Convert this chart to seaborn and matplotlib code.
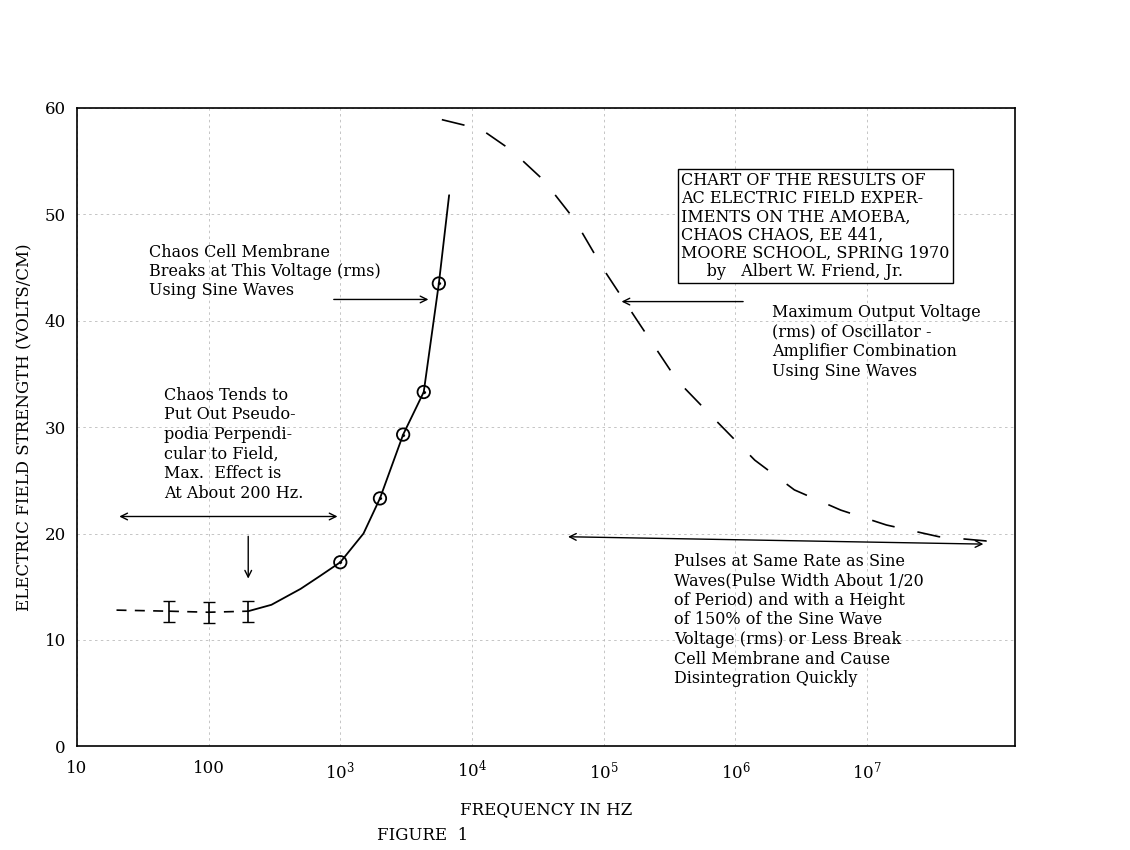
import matplotlib
matplotlib.use("Agg")
import matplotlib.pyplot as plt
import seaborn as sns
import numpy as np

sns.set_theme(style="white")
plt.rcParams['font.family'] = ['DejaVu Serif']
plt.rcParams['mathtext.fontset'] = 'dejavuserif'
plt.rcParams['text.color'] = 'black'
plt.rcParams['axes.labelcolor'] = 'black'
plt.rcParams['xtick.color'] = 'black'
plt.rcParams['ytick.color'] = 'black'

# data
err_freq = [50, 100, 200]
err_val = [12.7, 12.6, 12.7]
err_size = [1.0, 1.0, 1.0]
low_dash_freq = [20, 50]
low_dash_val = [12.8, 12.7]
break_freq = [1000, 2000, 3000, 4300, 5600]
break_val = [17.3, 23.3, 29.3, 33.3, 43.5]
curve_freq = [200, 300, 500, 700, 1000, 1500, 2000, 3000, 4300, 5600, 6700]
curve_val = [12.7, 13.3, 14.8, 16.0, 17.3, 20.0, 23.3, 29.3, 33.3, 43.5, 51.8]
max_freq = [5900, 11700, 20000, 35000, 60000, 100000, 180000, 360000, 700000,
            1400000, 2800000, 6300000, 14000000, 35000000, 80000000, 120000000]
max_val = [58.9, 58.0, 56.0, 53.2, 49.5, 44.8, 40.0, 34.4, 30.7, 26.9, 24.1,
           22.2, 20.8, 19.7, 19.3, 19.7]
xticks = [10, 100, 1e3, 1e4, 1e5, 1e6, 1e7]
xtick_labels = ["10", "100", "$10^{3}$", "$10^{4}$", "$10^{5}$", "$10^{6}$", "$10^{7}$"]
yticks = [0, 10, 20, 30, 40, 50, 60]

fig = plt.figure(figsize=(11.3, 8.5), dpi=100)
ax = fig.add_axes([0.068, 0.122, 0.83, 0.751])
ax.set_xscale('log')
ax.set_xlim(10, 10**8.12)
ax.set_ylim(0, 60)

sns.lineplot(x=curve_freq, y=curve_val, ax=ax, color='black', lw=1.3, sort=False)
sns.lineplot(x=low_dash_freq, y=low_dash_val, ax=ax, color='black', lw=1.2, linestyle=(0, (6, 5)))
sns.lineplot(x=err_freq, y=err_val, ax=ax, color='black', lw=1.2, linestyle=(0, (6, 5)))
ax.errorbar(err_freq, err_val, yerr=err_size, fmt='none', ecolor='black', capsize=4, lw=1.2)
sns.scatterplot(x=break_freq, y=break_val, ax=ax, s=80, facecolor='none', edgecolor='black', linewidth=1.3)
sns.scatterplot(x=break_freq, y=break_val, ax=ax, s=6, color='black')
sns.lineplot(x=max_freq, y=max_val, ax=ax, color='black', lw=1.2, linestyle=(0, (14, 14)), sort=False)

ax.set_xticks(xticks)
ax.set_xticklabels(xtick_labels)
ax.minorticks_off()
ax.set_yticks(yticks)
ax.tick_params(labelsize=12, length=0)
ax.tick_params(axis='x', pad=10)
ax.tick_params(axis='y', pad=8)
for s in ax.spines.values():
    s.set_color('black'); s.set_linewidth(1.2)
ax.grid(True, color='#bbbbbb', linestyle=(0, (3, 4)), lw=0.6)

ax.set_xlabel("FREQUENCY IN HZ", fontsize=12, labelpad=14)
ax.set_ylabel("ELECTRIC FIELD STRENGTH (VOLTS/CM)", fontsize=12, labelpad=8)
fig.text(0.334, 0.012, "FIGURE  1", fontsize=12)

ap = dict(arrowstyle='->', color='black', lw=1)
ap2 = dict(arrowstyle='<->', color='black', lw=1)
ax.annotate("", xy=(20, 21.6), xytext=(1000, 21.6), arrowprops=ap2)
ax.annotate("", xy=(200, 15.5), xytext=(200, 20.0), arrowprops=ap)
ax.annotate("", xy=(4900, 42.0), xytext=(850, 42.0), arrowprops=ap)
ax.annotate("", xy=(130000, 41.8), xytext=(1.2e6, 41.8), arrowprops=ap)
ax.annotate("", xy=(51000, 19.7), xytext=(8e7, 19.0), arrowprops=ap2)

fs = 11.5
ax.text(35, 47.2, "Chaos Cell Membrane\nBreaks at This Voltage (rms)\nUsing Sine Waves",
        fontsize=fs, va='top', linespacing=1.15)
ax.text(46, 33.8, "Chaos Tends to\nPut Out Pseudo-\npodia Perpendi-\ncular to Field,\nMax.  Effect is\nAt About 200 Hz.",
        fontsize=fs, va='top', linespacing=1.2)
ax.text(1.9e6, 41.6, "Maximum Output Voltage\n(rms) of Oscillator -\nAmplifier Combination\nUsing Sine Waves",
        fontsize=fs, va='top', linespacing=1.2)
ax.text(3.4e5, 18.2, "Pulses at Same Rate as Sine\nWaves(Pulse Width About 1/20\nof Period) and with a Height\nof 150% of the Sine Wave\nVoltage (rms) or Less Break\nCell Membrane and Cause\nDisintegration Quickly",
        fontsize=fs, va='top', linespacing=1.2)
ax.text(10**5.59, 54.0, "CHART OF THE RESULTS OF\nAC ELECTRIC FIELD EXPER-\nIMENTS ON THE AMOEBA,\nCHAOS CHAOS, EE 441,\nMOORE SCHOOL, SPRING 1970\n     by   Albert W. Friend, Jr.",
        fontsize=fs, va='top', linespacing=1.1,
        bbox=dict(boxstyle='square,pad=0.2', fc='white', ec='black', lw=1))

fig.savefig("out.png", dpi=100, facecolor='white')
